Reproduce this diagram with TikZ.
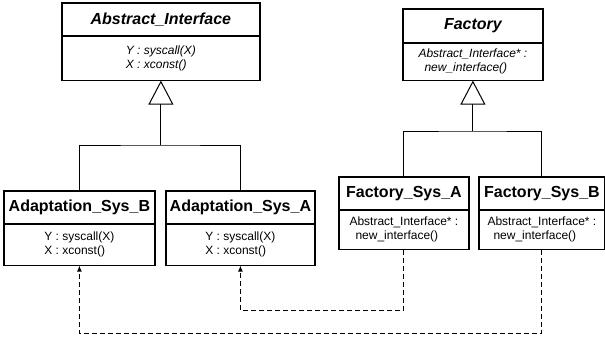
\documentclass[tikz,border=0pt]{standalone}
\usepackage{fontspec}
\setmainfont{Liberation Sans}
\usetikzlibrary{arrows.meta}
\begin{document}
\begin{tikzpicture}[x=1bp,y=-1bp,
  umltitle/.style={draw,line width=0.8bp,rectangle,inner sep=0pt,anchor=north west,
    font=\fontsize{16bp}{19bp}\selectfont\bfseries},
  umlbody/.style={draw,line width=0.8bp,rectangle,inner sep=0pt,anchor=north,align=left,
    font=\fontsize{12bp}{14bp}\selectfont},
  umlframe/.style={line width=1.6bp},
  conn/.style={line width=1bp},
  inherit/.style={line width=1bp,-{Triangle[open,length=24bp,width=25bp,line width=1bp]}},
  dep/.style={line width=0.9bp,dash pattern=on 5bp off 3bp,-{Latex[length=6bp,width=5bp]}}
]
\useasboundingbox (0,0) rectangle (605,339);

% Abstract_Interface
\node[umltitle,minimum width=197bp,minimum height=32bp,font=\fontsize{16bp}{19bp}\selectfont\bfseries\itshape] (AIt) at (62,3) {Abstract\_Interface};
\node[umlbody,minimum width=197bp,minimum height=44bp,font=\fontsize{12bp}{14bp}\selectfont\itshape] (AIb) at (AIt.south) {Y : syscall(X)\\X : xconst()};
\draw[umlframe] (AIt.north west) rectangle (AIb.south east);

% Factory
\node[umltitle,minimum width=139bp,minimum height=33bp,font=\fontsize{16bp}{19bp}\selectfont\bfseries\itshape] (Ft) at (403,9) {Factory};
\node[umlbody,minimum width=139bp,minimum height=37bp,font=\fontsize{12bp}{14bp}\selectfont\itshape] (Fb) at (Ft.south) {Abstract\_Interface* :\\\hspace*{6bp}new\_interface()};
\draw[umlframe] (Ft.north west) rectangle (Fb.south east);

% Adaptation_Sys_B
\node[umltitle,minimum width=150bp,minimum height=32bp] (ADBt) at (4,191) {Adaptation\_Sys\_B};
\node[umlbody,minimum width=150bp,minimum height=41bp] (ADBb) at (ADBt.south) {Y : syscall(X)\\X : xconst()};
\draw[umlframe] (ADBt.north west) rectangle (ADBb.south east);

% Adaptation_Sys_A
\node[umltitle,minimum width=148bp,minimum height=32bp] (ADAt) at (166,191) {Adaptation\_Sys\_A};
\node[umlbody,minimum width=148bp,minimum height=41bp] (ADAb) at (ADAt.south) {Y : syscall(X)\\X : xconst()};
\draw[umlframe] (ADAt.north west) rectangle (ADAb.south east);

% Factory_Sys_A
\node[umltitle,minimum width=129bp,minimum height=32bp] (FSAt) at (339,177) {Factory\_Sys\_A};
\node[umlbody,minimum width=129bp,minimum height=39bp] (FSAb) at (FSAt.south) {Abstract\_Interface* :\\\hspace*{6bp}new\_interface()};
\draw[umlframe] (FSAt.north west) rectangle (FSAb.south east);

% Factory_Sys_B
\node[umltitle,minimum width=125bp,minimum height=32bp] (FSBt) at (479,177) {Factory\_Sys\_B};
\node[umlbody,minimum width=125bp,minimum height=39bp] (FSBb) at (FSBt.south) {Abstract\_Interface* :\\\hspace*{6bp}new\_interface()};
\draw[umlframe] (FSBt.north west) rectangle (FSBb.south east);

% inheritance
\coordinate (h1) at (0,145);
\coordinate (h2) at (0,131);
\draw[inherit] (AIb.south |- h1) -- (AIb.south);
\draw[conn] (ADBt.north) |- (AIb.south |- h1) -| (ADAt.north);
\draw[inherit] (Fb.south |- h2) -- (Fb.south);
\draw[conn] (FSAt.north) |- (Fb.south |- h2) -| (FSBt.north);

% dependencies
\coordinate (d1) at (0,310);
\coordinate (d2) at (0,333);
\draw[dep] (FSAb.south) -- (FSAb.south |- d1) -| (ADAb.south);
\draw[dep] (FSBb.south) -- (FSBb.south |- d2) -| (ADBb.south);
\end{tikzpicture}
\end{document}
